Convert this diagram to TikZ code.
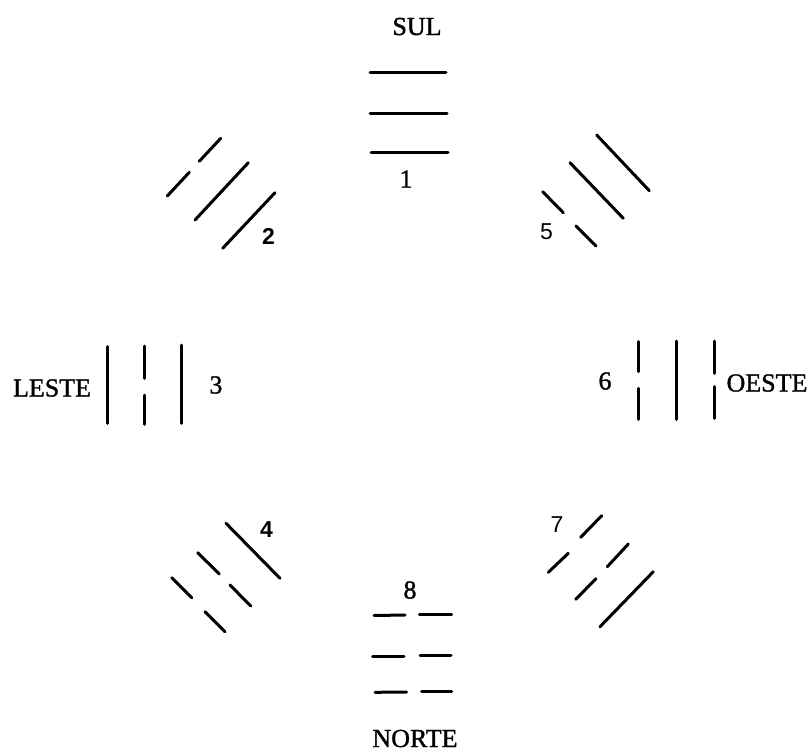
\documentclass[tikz,border=0pt]{standalone}
\usepackage{fontspec}
\setmainfont{Liberation Serif}[FakeBold=1.2]
\newfontfamily\digsans{Liberation Sans}
\begin{document}
\begin{tikzpicture}[x=1pt,y=-1pt,
  yao/.style={line width=3pt,line cap=round,black},
  lab/.style={inner sep=0pt,anchor=base,font=\fontsize{26}{28}\selectfont},
  numl/.style={inner sep=0pt,font=\fontsize{26}{28}\selectfont},
  nums/.style={inner sep=0pt,font=\digsans\bfseries\fontsize{23}{26}\selectfont}]
\useasboundingbox[fill=white] (0,0) rectangle (811,753);
% 1 SUL
\node[lab] (sul) at (417,35) {SUL};
\draw[yao] (370,72) -- (446,72);
\draw[yao] (370,113) -- (447,113);
\draw[yao] (371,152) -- (448,152);
\node[numl] (n1) at (406,179) {1};
% 2
\draw[yao] (167.3,196) -- (189.3,172.3);
\draw[yao] (199.3,161.3) -- (220.7,138.3);
\draw[yao] (195,220) -- (248.3,162.7);
\draw[yao] (222.7,248.3) -- (275,192.7);
\node[nums] (n2) at (268.5,236) {2};
% 5
\draw[yao] (596.7,135) -- (649.3,190.7);
\draw[yao] (570,162.7) -- (623.3,218.3);
\draw[yao] (542.7,191.7) -- (563.3,212.7);
\draw[yao] (576,226) -- (596,246);
\node[nums,font=\digsans\fontsize{23}{26}\selectfont] (n5) at (546.5,231.5) {5};
% 3 LESTE
\node[lab] (leste) at (52,396.5) {LESTE};
\draw[yao] (107.3,346.7) -- (107.3,423.3);
\draw[yao] (144,346) -- (144,378.3);
\draw[yao] (144,395) -- (144,424.3);
\draw[yao] (181,345) -- (181,423.3);
\node[numl] (n3) at (216,385) {3};
% 6 OESTE
\draw[yao] (638.3,341.7) -- (638.3,371.7);
\draw[yao] (638.3,388.3) -- (638.3,419.3);
\draw[yao] (676.7,341) -- (676.7,419.3);
\draw[yao] (714.3,341) -- (714.3,373.3);
\draw[yao] (714.3,386.7) -- (714.3,418.3);
\node[numl] (n6) at (605,381) {6};
\node[lab] (oeste) at (767,391.5) {OESTE};
% 4
\draw[yao] (226,523.3) -- (280,578.3);
\draw[yao] (197.7,552.7) -- (219.3,574);
\draw[yao] (230,585) -- (250.7,606);
\draw[yao] (171.7,577.7) -- (191.7,597.7);
\draw[yao] (205,611.7) -- (225,631.7);
\node[nums] (n4) at (266.5,530) {4};
% 7
\draw[yao] (580.7,537.3) -- (601.7,515.7);
\draw[yao] (548.3,572.3) -- (568.3,553.3);
\draw[yao] (607.3,566.7) -- (628.3,544);
\draw[yao] (575.7,599.3) -- (596,578.7);
\draw[yao] (600,626.7) -- (653.3,571.7);
\node[nums,font=\digsans\fontsize{23}{26}\selectfont] (n7) at (557,525) {7};
% 8 NORTE
\node[numl] (n8) at (410,590) {8};
\draw[yao] (374,615.5) -- (405,615);
\draw[yao] (419.3,614.7) -- (451.7,614.7);
\draw[yao] (372.7,656) -- (404,656);
\draw[yao] (420,655.7) -- (451,655.7);
\draw[yao] (375,692.3) -- (406.7,692);
\draw[yao] (421.7,691) -- (451.7,691);
\node[lab] (norte) at (415,747) {NORTE};
\end{tikzpicture}
\end{document}
